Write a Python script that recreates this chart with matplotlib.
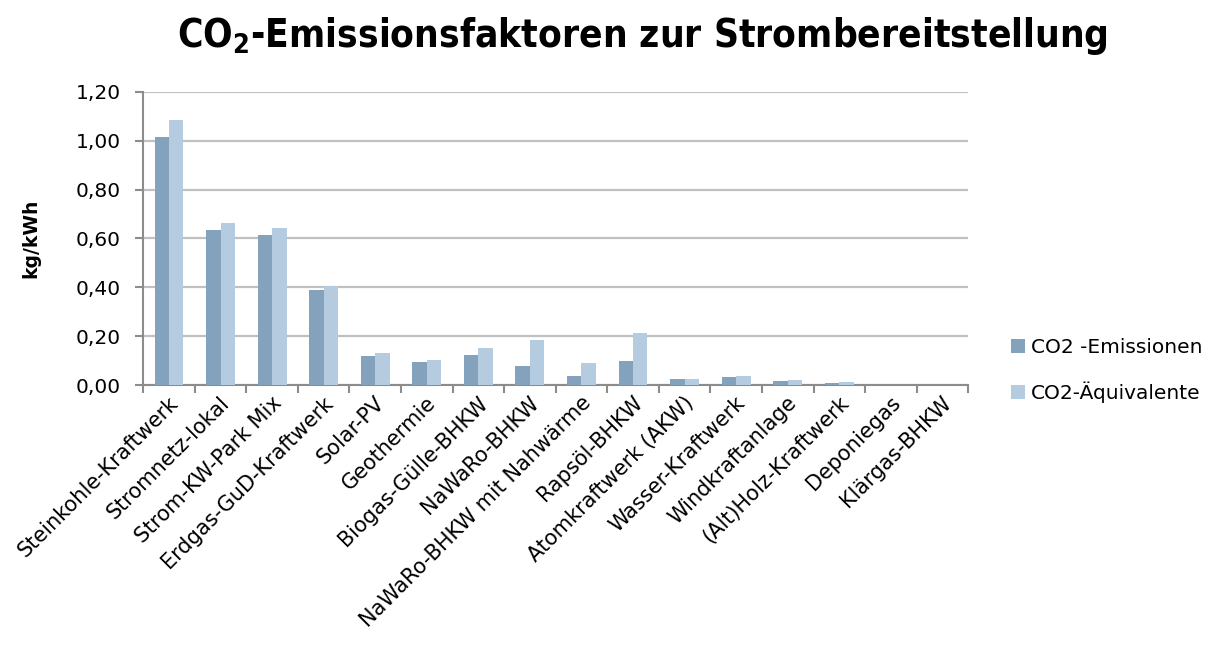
import matplotlib
matplotlib.use("Agg")
import matplotlib.pyplot as plt
import numpy as np

categories = ["Steinkohle-Kraftwerk", "Stromnetz-lokal", "Strom-KW-Park Mix",
              "Erdgas-GuD-Kraftwerk", "Solar-PV", "Geothermie", "Biogas-Gülle-BHKW",
              "NaWaRo-BHKW", "NaWaRo-BHKW mit Nahwärme", "Rapsöl-BHKW",
              "Atomkraftwerk (AKW)", "Wasser-Kraftwerk", "Windkraftanlage",
              "(Alt)Holz-Kraftwerk", "Deponiegas", "Klärgas-BHKW"]
co2_emissionen = [1.016, 0.635, 0.616, 0.389, 0.119, 0.096, 0.123, 0.078,
                  0.037, 0.099, 0.025, 0.034, 0.018, 0.008, 0.0, 0.0]
co2_aequivalente = [1.085, 0.662, 0.642, 0.407, 0.132, 0.103, 0.152, 0.186,
                    0.092, 0.214, 0.026, 0.036, 0.020, 0.012, 0.0, 0.0]
series_labels = ["CO2 -Emissionen", "CO2-Äquivalente"]
yticks = [0.0, 0.2, 0.4, 0.6, 0.8, 1.0, 1.2]
title = "CO$_\\mathregular{2}$-Emissionsfaktoren zur Strombereitstellung"

plt.rcParams['font.family'] = ['DejaVu Sans']
plt.rcParams['mathtext.default'] = 'regular'

dark = "#84A2BB"
light = "#B5CBDF"
grid_c = "#C0C0C0"
axis_c = "#8C8C8C"
fs = 14.5

fig = plt.figure(figsize=(12.24, 6.56), dpi=100)
ax = fig.add_axes([0.117, 0.413, 0.674, 0.447])

x = np.arange(len(categories))
w = 0.28
ax.bar(x - w/2, co2_emissionen, w, color=dark, label=series_labels[0], zorder=3)
ax.bar(x + w/2, co2_aequivalente, w, color=light, label=series_labels[1], zorder=3)

ax.set_xlim(-0.5, len(categories) - 0.5)
ax.set_ylim(0, 1.2)
ax.set_yticks(yticks)
ax.set_yticklabels([f"{v:.2f}".replace(".", ",") for v in yticks], fontsize=fs)
ax.yaxis.grid(True, color=grid_c, linewidth=1.6, zorder=0)
ax.set_axisbelow(True)

ax.set_xticks(np.arange(len(categories) + 1) - 0.5)
ax.set_xticklabels([])
ax.tick_params(axis='x', length=6, width=1.5, color=axis_c, direction='out')
ax.tick_params(axis='y', length=6, width=1.5, color=axis_c, direction='out', pad=10)

for i, lab in enumerate(categories):
    ax.text(i + 0.12, -0.06, lab, rotation=45, rotation_mode='anchor',
            ha='right', va='center', fontsize=15)

for s in ['top', 'right']:
    ax.spines[s].set_visible(False)
for s in ['left', 'bottom']:
    ax.spines[s].set_color(axis_c)
    ax.spines[s].set_linewidth(1.5)

ax.set_ylabel("kg/kWh", fontsize=13.5, fontweight='bold')
ax.yaxis.set_label_coords(-0.125, 0.5)

t = fig.text(0.525, 0.945, title, ha='center', va='center', fontsize=30,
             fontweight='bold', fontstretch='condensed')
fig.canvas.draw()
bb = t.get_window_extent(renderer=fig.canvas.get_renderer())
t.set_fontsize(30 * 930.0 / bb.width)

fig.legend(loc='center left', bbox_to_anchor=(0.811, 0.435), frameon=False,
           fontsize=fs, handlelength=0.7, handleheight=0.7,
           handletextpad=0.3, labelspacing=1.2)

fig.savefig("out.png", dpi=100)
